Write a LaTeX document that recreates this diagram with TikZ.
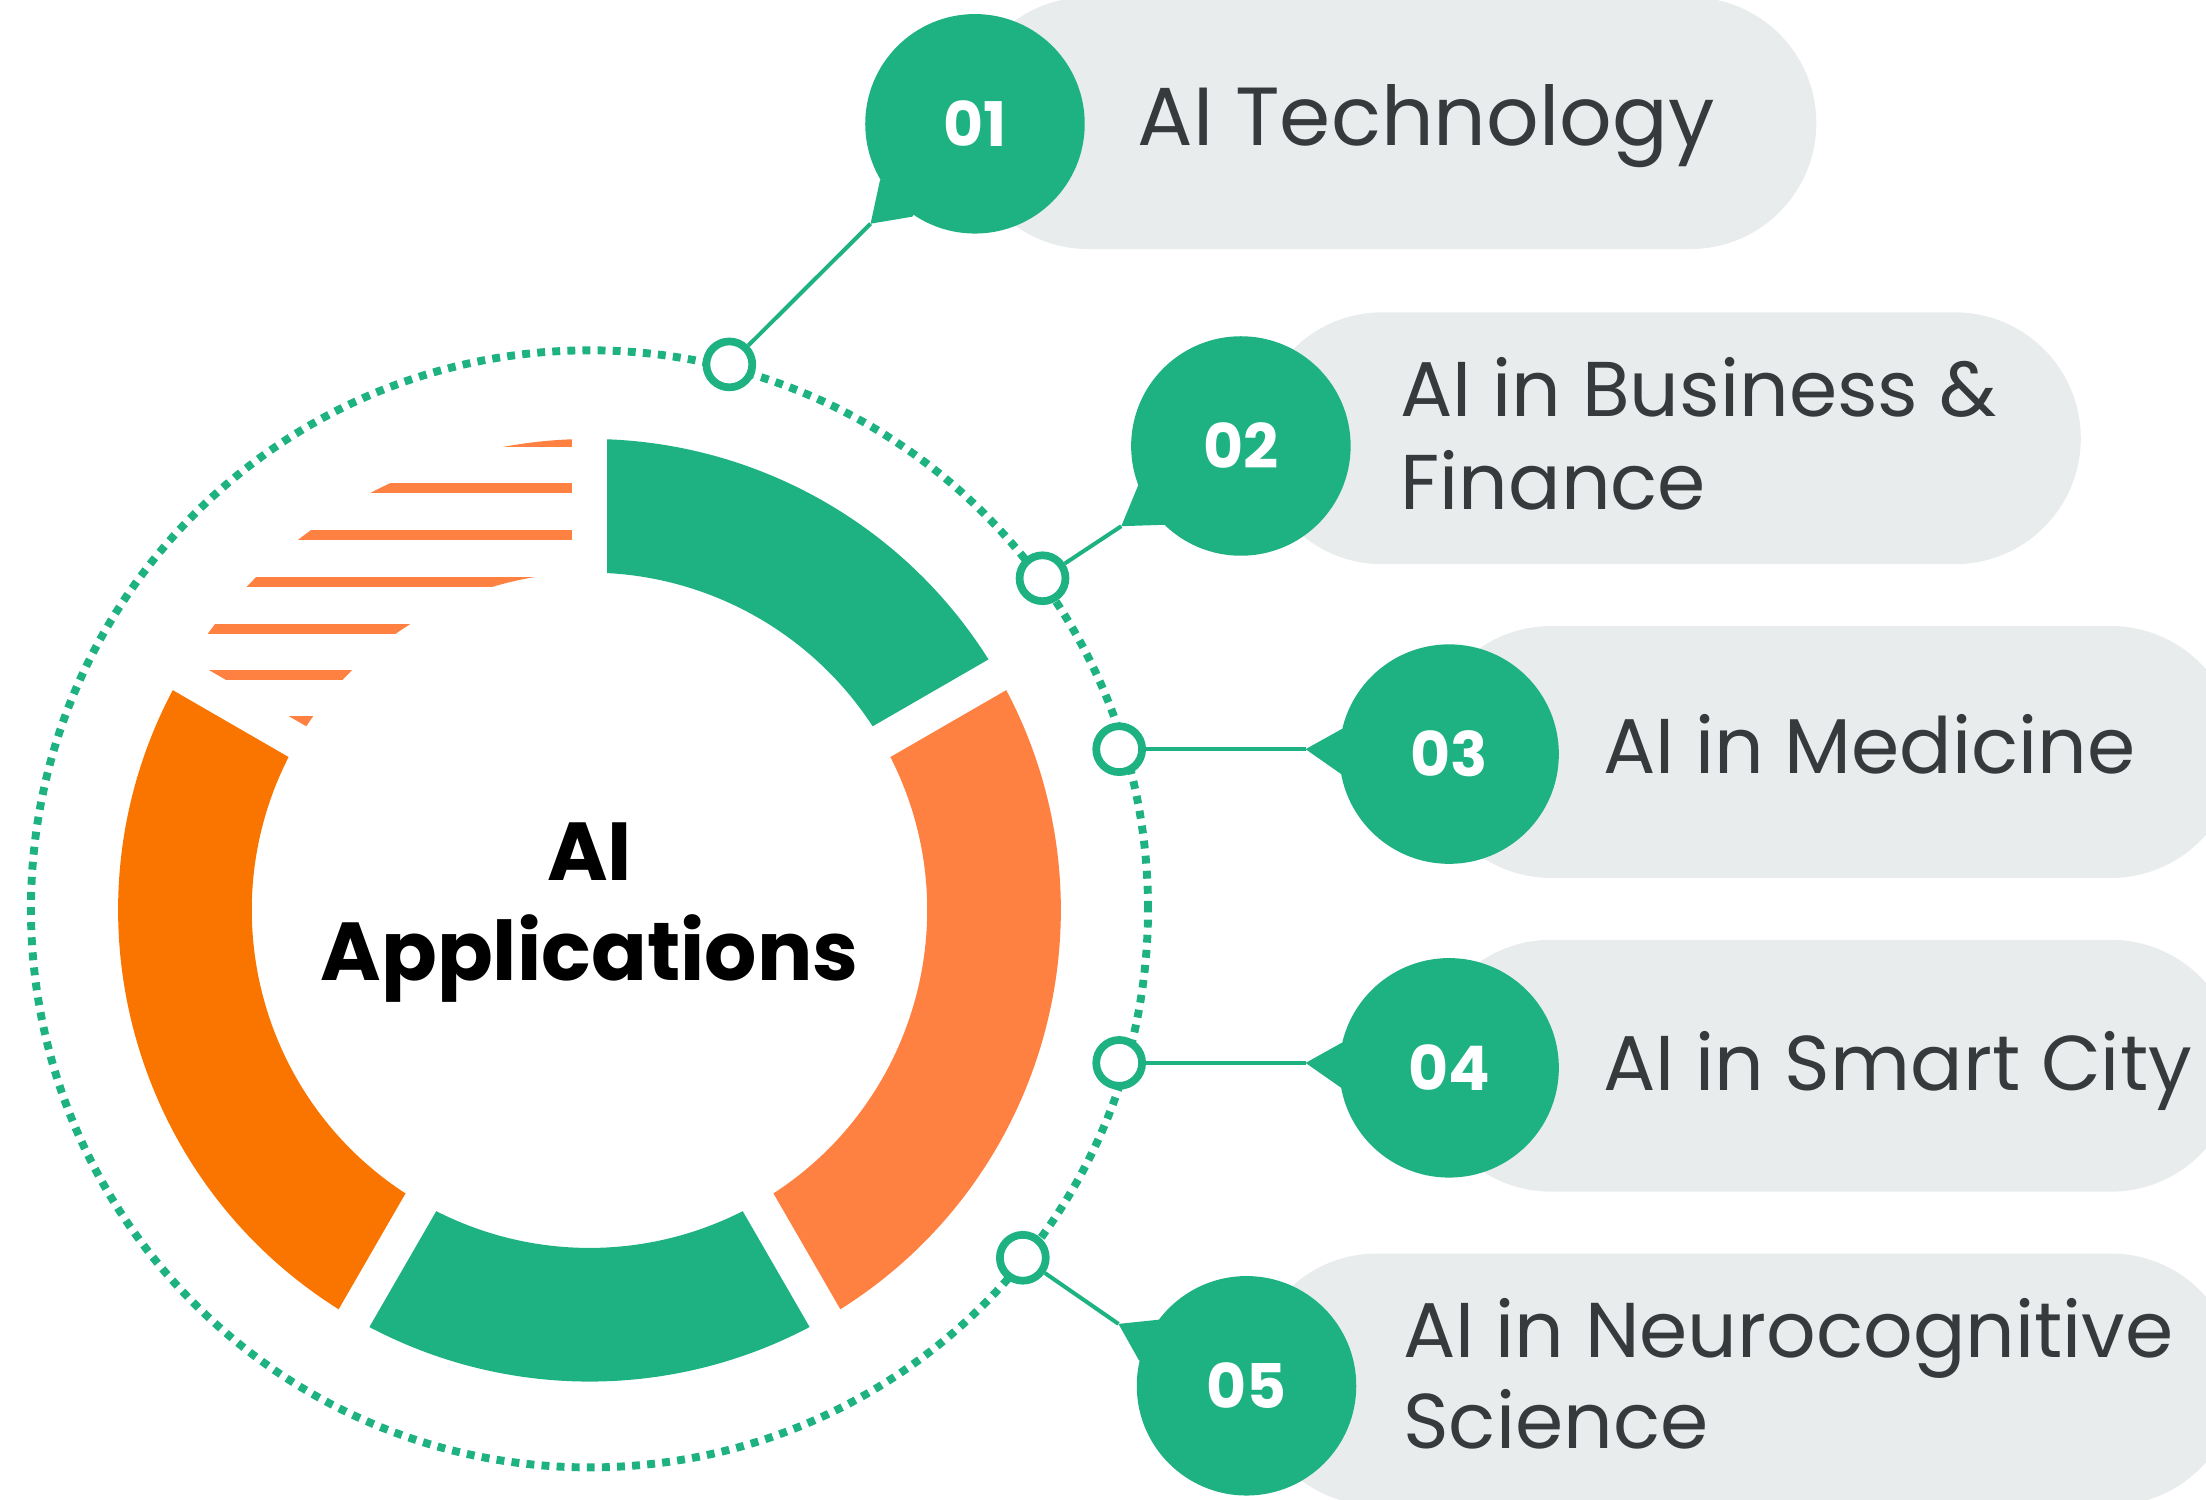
\documentclass[tikz,border=0pt]{standalone}
\usepackage{fontspec}
\setmainfont{Poppins}
\definecolor{grn}{HTML}{1EB283}
\definecolor{orR}{HTML}{FF8142}
\definecolor{orL}{HTML}{F97500}
\definecolor{pillgray}{HTML}{E9ECEC}
\definecolor{txt}{HTML}{363A3D}
\newcommand{\ringsec}[3]{\fill[#3] (419,-647) ++(#1:335) arc[start angle=#1,end angle=#2,radius=335] -- ++(#2:-95) arc[start angle=#2,end angle=#1,radius=240] -- cycle;}
\tikzset{
  pill/.style={fill=pillgray, rounded corners=12.59mm},
  numc/.style={circle, fill=grn, minimum size=21.95mm, inner sep=0pt, text=white, font=\fontsize{17.5}{20}\selectfont\bfseries},
  smallc/.style={circle, draw=grn, fill=white, line width=2.2pt, minimum size=4.59mm, inner sep=0pt},
  conn/.style={draw=grn, line width=1.14pt},
  wedge/.style={fill=grn},
  itemtext/.style={anchor=base west, text=txt, inner sep=0pt, font=\fontsize{22.1}{26}\selectfont},
  ctext/.style={anchor=base, text=black, inner sep=0pt, font=\fontsize{23.4}{26}\selectfont\bfseries}
}
\begin{document}
\begin{tikzpicture}[x=0.0140689cm,y=0.0140689cm]
\useasboundingbox (0,0) rectangle (1568,-1065.5);
\clip (0,0) rectangle (1568,-1065.5);
% pills
\fill[pill] (684,2) rectangle (1291,-177);
\fill[pill] (893,-222) rectangle (1479,-401);
\fill[pill] (1013,-445) rectangle (1590,-624);
\fill[pill] (1013,-668) rectangle (1590,-847);
\fill[pill] (889,-891) rectangle (1590,-1070);
% ring
\ringsec{30}{90}{grn}
\ringsec{-60}{30}{orR}
\ringsec{-120}{-60}{grn}
\ringsec{150}{240}{orL}
\begin{scope}
\clip (419,-647) ++(90:335) arc[start angle=90,end angle=150,radius=335] -- ++(150:-95) arc[start angle=150,end angle=90,radius=240] -- cycle;
\foreach \yy in {314.4,347,380.3,413.7,446.8,480,512.5} \fill[orR] (0,-\yy-3.6) rectangle (420,-\yy+3.6);
\end{scope}
\foreach \a in {90,30,-60,-120,150} \draw[white,line width=3.52mm] (419,-647) ++(\a:200) -- ++(\a:150);
% dotted circle
\draw[grn, line width=2.25pt, dash pattern=on 2.25pt off 2.05pt] (419,-646) circle[radius=397];
% coordinates
\coordinate (T1) at (618.8,-159);
\coordinate (T2) at (797,-374);
\coordinate (T3) at (928,-532.5);
\coordinate (T4) at (928,-755.5);
\coordinate (T5) at (795,-941);
% small circles
\node[smallc] (s1) at (518.4,-259) {};
\node[smallc] (s2) at (741,-411) {};
\node[smallc] (s3) at (795.5,-532.5) {};
\node[smallc] (s4) at (795.5,-755.5) {};
\node[smallc] (s5) at (727,-894) {};
% connectors
\draw[conn] (s1) -- (T1);
\draw[conn] (s2) -- (T2);
\draw[conn] (s3) -- (T3);
\draw[conn] (s4) -- (T4);
\draw[conn] (s5) -- (T5);
% wedges
\fill[wedge] (T1) -- (625.5,-128) -- (693,-88) -- (648.5,-154) -- cycle;
\fill[wedge] (T2) -- (809,-345) -- (882,-317) -- (828,-373) -- cycle;
\fill[wedge] (T3) -- (954,-518) -- (1030,-536) -- (953,-550) -- cycle;
\fill[wedge] (T4) -- (954,-741) -- (1030,-759) -- (953,-773) -- cycle;
\fill[wedge] (T5) -- (823.7,-938) -- (886,-985) -- (809.6,-967) -- cycle;
% numbered circles
\node[numc] (n1) at (693,-88) {01};
\node[numc] (n2) at (882,-317) {02};
\node[numc] (n3) at (1030,-536) {03};
\node[numc] (n4) at (1030,-759) {04};
\node[numc] (n5) at (886,-985) {05};
% texts
\node[itemtext, font=\fontsize{23.45}{26}\selectfont] (t1) at (808,-103.4) {AI Technology};
\node[itemtext] (t2a) at (995,-295.7) {AI in Business \&};
\node[itemtext] (t2b) at (995,-361.8) {Finance};
\node[itemtext] (t3) at (1139,-550) {AI in Medicine};
\node[itemtext] (t4) at (1139,-775) {AI in Smart City};
\node[itemtext] (t5a) at (997,-964.6) {AI in Neurocognitive};
\node[itemtext] (t5b) at (997,-1029.6) {Science};
\node[ctext] (c1) at (419,-626) {AI};
\node[ctext] (c2) at (419,-697) {Applications};
\end{tikzpicture}
\end{document}
